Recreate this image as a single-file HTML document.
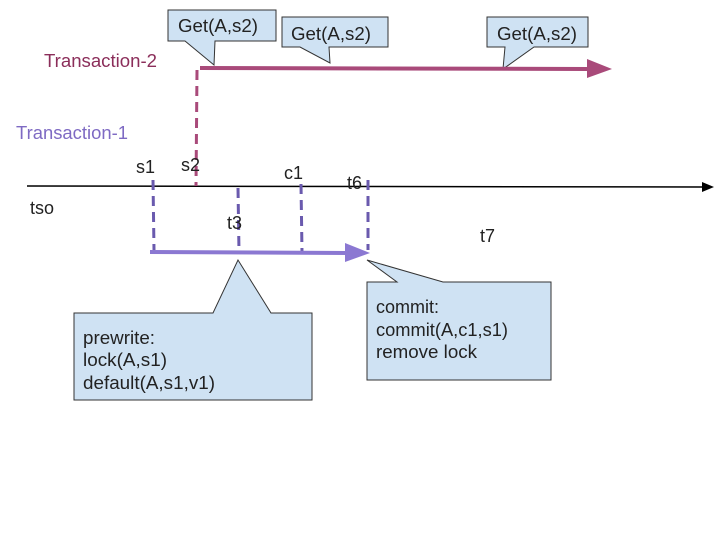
<!DOCTYPE html>
<html><head><meta charset="utf-8"><style>body{margin:0;background:#fff}svg{display:block}text{font-family:"Liberation Sans",Arial,sans-serif;font-size:18px;fill:#222}</style></head><body>
<svg width="720" height="540" viewBox="0 0 720 540">
<g fill="#cfe2f3" stroke="#333" stroke-width="1">
<path d="M168 10H276V41H215L214 65L185 41H168Z"/>
<path d="M282 17H388V47H329L330 63L300 47H282Z"/>
<path d="M487 17H588V47H534L503 69L505 47H487Z"/>
<path d="M74 313H213L238 260L271 313H312V400H74Z"/>
<path d="M367 282H397L367 260L443 282H551V380H367Z"/>
</g>
<text x="178" y="32" textLength="80" lengthAdjust="spacingAndGlyphs">Get(A,s2)</text>
<text x="291" y="40" textLength="80" lengthAdjust="spacingAndGlyphs">Get(A,s2)</text>
<text x="497" y="40" textLength="80" lengthAdjust="spacingAndGlyphs">Get(A,s2)</text>
<text x="83" y="344" textLength="72" lengthAdjust="spacingAndGlyphs">prewrite:</text>
<text x="83" y="366" textLength="84" lengthAdjust="spacingAndGlyphs">lock(A,s1)</text>
<text x="83" y="389" textLength="132" lengthAdjust="spacingAndGlyphs">default(A,s1,v1)</text>
<text x="376" y="313">commit:</text>
<text x="376" y="336" textLength="132" lengthAdjust="spacingAndGlyphs">commit(A,c1,s1)</text>
<text x="376" y="358" textLength="101" lengthAdjust="spacingAndGlyphs">remove lock</text>
<text x="44" y="67" textLength="113" lengthAdjust="spacingAndGlyphs" style="fill:#8b2e5a">Transaction-2</text>
<text x="16" y="139" textLength="112" lengthAdjust="spacingAndGlyphs" style="fill:#7e6ac3">Transaction-1</text>
<line x1="27" y1="186" x2="702" y2="187" stroke="#000" stroke-width="1.5"/>
<path d="M702 182L714 187L702 192Z" fill="#000"/>
<line x1="200" y1="68" x2="588" y2="69" stroke="#a94a7a" stroke-width="4"/>
<path d="M587 59L612 69L587 78Z" fill="#a94a7a"/>
<line x1="197" y1="70" x2="196" y2="186" stroke="#a94a7a" stroke-width="3" stroke-dasharray="10,6"/>
<g stroke="#6a5aae" stroke-width="3" stroke-dasharray="10,6">
<line x1="153" y1="180" x2="154" y2="250"/>
<line x1="238" y1="188" x2="239" y2="252"/>
<line x1="301" y1="184" x2="302" y2="252"/>
<line x1="368" y1="180" x2="368" y2="250"/>
</g>
<line x1="150" y1="252" x2="348" y2="253" stroke="#8b78d2" stroke-width="4"/>
<path d="M345 243L370 253L345 262Z" fill="#8b78d2"/>
<text x="136" y="173">s1</text>
<text x="181" y="171">s2</text>
<text x="284" y="179">c1</text>
<text x="347" y="189">t6</text>
<text x="227" y="229">t3</text>
<text x="480" y="242">t7</text>
<text x="30" y="214">tso</text>
</svg>
</body></html>
